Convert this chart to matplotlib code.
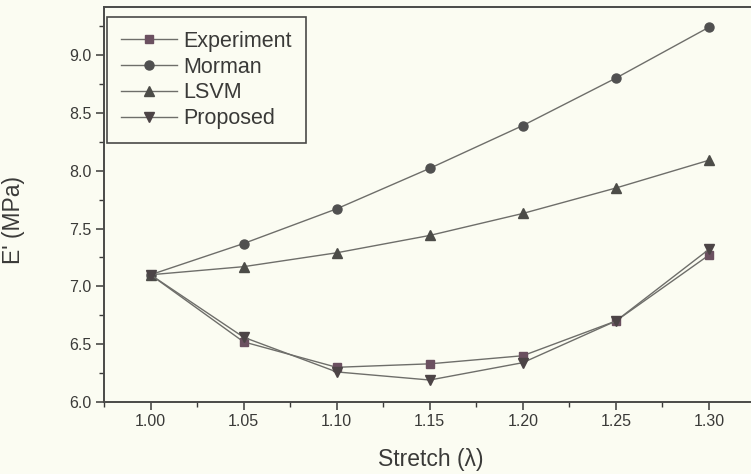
import numpy as np
import matplotlib
matplotlib.use("Agg")
import matplotlib.pyplot as plt
from matplotlib.ticker import MultipleLocator, FuncFormatter

# values
stretch = [1.00, 1.05, 1.10, 1.15, 1.20, 1.25, 1.30]
experiment = [7.10, 6.52, 6.30, 6.33, 6.40, 6.70, 7.27]
morman = [7.10, 7.37, 7.67, 8.02, 8.39, 8.80, 9.24]
lsvm = [7.10, 7.17, 7.29, 7.44, 7.63, 7.85, 8.09]
proposed = [7.10, 6.56, 6.26, 6.19, 6.34, 6.70, 7.32]

plt.rcParams['font.family'] = ['Liberation Sans', 'DejaVu Sans']

W, H = 751, 474
bg = "#fbfcf2"
txt_c = "#3a3a38"
fig = plt.figure(figsize=(W / 100, H / 100), dpi=100, facecolor=bg)

# axes run past the right edge of the picture, as in the scan
left, right, top, bottom = 104, 802, 7, 402
ax = fig.add_axes([left / W, 1 - bottom / H, (right - left) / W, (bottom - top) / H])
ax.set_facecolor(bg)

line_c = "#6e6e6a"
series = [
    ("Experiment", experiment, "s", "#6b5060", 6.0),
    ("Morman", morman, "o", "#505050", 6.5),
    ("LSVM", lsvm, "^", "#4c4c48", 7.0),
    ("Proposed", proposed, "v", "#4c4446", 7.0),
]
for name, vals, mk, mc, ms in series:
    ax.plot(stretch, vals, color=line_c, lw=1.0, marker=mk, ms=ms,
            markerfacecolor=mc, markeredgecolor=mc, label=name)

ax.set_xlim(0.975, 1.35)
ax.set_ylim(6.0, 9.415)
ax.xaxis.set_major_locator(MultipleLocator(0.05))
ax.xaxis.set_minor_locator(MultipleLocator(0.025))
ax.yaxis.set_major_locator(MultipleLocator(0.5))
ax.yaxis.set_minor_locator(MultipleLocator(0.25))
ax.xaxis.set_major_formatter(FuncFormatter(lambda v, p: f"{v:.2f}" if v < 1.31 else ""))
ax.yaxis.set_major_formatter(FuncFormatter(lambda v, p: f"{v:.1f}"))

ticks_c = "#3a3a38"
ax.tick_params(which="major", direction="out", length=6, width=1.1,
               color=ticks_c, labelcolor=txt_c, labelsize=11.5, pad=3)
ax.tick_params(which="minor", direction="out", length=3.6, width=1.0, color=ticks_c)
ax.tick_params(top=False, right=False)
for s in ax.spines.values():
    s.set_color("#4a4a48")
    s.set_linewidth(1.4)

ax.set_xlabel("Stretch (\u03bb)", fontsize=16.5, color=txt_c)
ax.set_ylabel("E' (MPa)", fontsize=16.5, color=txt_c)
ax.xaxis.set_label_coords(0.4685, -0.116)
ax.yaxis.set_label_coords(-0.113, 0.46)

leg = ax.legend(loc="upper left", bbox_to_anchor=(107 / W, 1 - 17 / H),
                bbox_transform=fig.transFigure, borderaxespad=0,
                fontsize=15.5, fancybox=False, framealpha=1,
                handlelength=2.6, handletextpad=0.3, labelspacing=0.22,
                borderpad=0.65)
leg.get_frame().set_edgecolor("#4a4a48")
leg.get_frame().set_linewidth(1.2)
leg.get_frame().set_facecolor(bg)
for t in leg.get_texts():
    t.set_color(txt_c)

fig.savefig("out.png", dpi=100, facecolor=bg)
